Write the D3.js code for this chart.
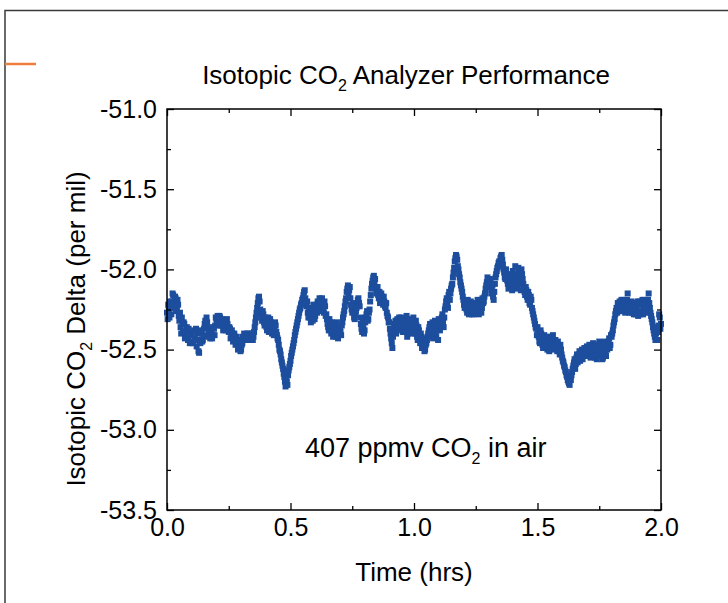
<!DOCTYPE html>
<html>
<head>
<meta charset="utf-8">
<script src="https://cdn.jsdelivr.net/npm/d3@7"></script>
<style>
  html, body { margin: 0; padding: 0; background: #fff; }
  svg { display: block; font-family: "Liberation Sans", Arial, sans-serif; }
</style>
</head>
<body>
<svg id="chart" width="728" height="603"></svg>
<script>
/*------------------- data --------------------*/
// time axis (hrs), one reading every 0.005 hr, second set offset by half a step
const t_start = 0;
const t_step = 0.005;

// isotopic CO2 delta (per mil), 20 values per 0.1 hr
const delta = [
  -52.27, -52.22, -52.30, -52.24, -52.20, -52.16, -52.24, -52.18, -52.25, -52.22, -52.32, -52.36, -52.30, -52.39, -52.34, -52.42, -52.36, -52.44, -52.39, -52.45,
  -52.40, -52.46, -52.38, -52.44, -52.48, -52.40, -52.52, -52.46, -52.40, -52.44, -52.37, -52.32, -52.30, -52.36, -52.40, -52.43, -52.38, -52.41, -52.37, -52.35,
  -52.31, -52.29, -52.33, -52.30, -52.35, -52.32, -52.37, -52.33, -52.36, -52.34, -52.39, -52.37, -52.42, -52.40, -52.44, -52.42, -52.46, -52.44, -52.49, -52.47,
  -52.50, -52.46, -52.44, -52.41, -52.44, -52.40, -52.43, -52.41, -52.44, -52.40, -52.42, -52.36, -52.30, -52.24, -52.18, -52.20, -52.27, -52.32, -52.28, -52.35,
  -52.33, -52.38, -52.30, -52.36, -52.33, -52.40, -52.34, -52.38, -52.35, -52.41, -52.44, -52.50, -52.53, -52.58, -52.62, -52.67, -52.73, -52.70, -52.66, -52.61,
  -52.57, -52.52, -52.48, -52.44, -52.39, -52.35, -52.31, -52.27, -52.24, -52.21, -52.18, -52.14, -52.18, -52.23, -52.27, -52.24, -52.30, -52.26, -52.32, -52.25,
  -52.29, -52.22, -52.20, -52.26, -52.19, -52.24, -52.21, -52.27, -52.23, -52.28, -52.34, -52.38, -52.33, -52.40, -52.35, -52.39, -52.34, -52.42, -52.37, -52.40,
  -52.36, -52.41, -52.33, -52.28, -52.23, -52.18, -52.12, -52.15, -52.11, -52.22, -52.27, -52.24, -52.31, -52.26, -52.21, -52.18, -52.23, -52.34, -52.39, -52.36,
  -52.38, -52.30, -52.26, -52.31, -52.25, -52.16, -52.09, -52.05, -52.08, -52.11, -52.13, -52.16, -52.14, -52.19, -52.17, -52.22, -52.20, -52.24, -52.27, -52.30,
  -52.33, -52.40, -52.46, -52.42, -52.36, -52.32, -52.38, -52.34, -52.30, -52.37, -52.33, -52.39, -52.31, -52.36, -52.29, -52.40, -52.34, -52.38, -52.32, -52.37,
  -52.33, -52.40, -52.35, -52.44, -52.38, -52.46, -52.42, -52.47, -52.44, -52.50, -52.46, -52.42, -52.38, -52.34, -52.40, -52.33, -52.38, -52.32, -52.42, -52.35,
  -52.31, -52.38, -52.33, -52.28, -52.36, -52.25, -52.20, -52.22, -52.16, -52.19, -52.12, -52.09, -52.02, -51.95, -51.91, -51.94, -52.00, -52.05, -52.10, -52.14,
  -52.19, -52.24, -52.21, -52.27, -52.22, -52.25, -52.20, -52.28, -52.23, -52.26, -52.21, -52.27, -52.22, -52.25, -52.19, -52.24, -52.21, -52.17, -52.12, -52.08,
  -52.06, -52.11, -52.08, -52.13, -52.17, -52.14, -52.05, -52.01, -51.98, -51.95, -51.93, -51.91, -51.97, -52.02, -52.06, -52.03, -52.09, -52.05, -52.11, -52.07,
  -52.01, -52.08, -51.98, -52.05, -52.12, -52.02, -52.09, -52.00, -52.06, -52.12, -52.16, -52.13, -52.19, -52.16, -52.22, -52.19, -52.26, -52.30, -52.34, -52.37,
  -52.36, -52.42, -52.46, -52.40, -52.47, -52.43, -52.49, -52.44, -52.50, -52.45, -52.48, -52.42, -52.47, -52.44, -52.50, -52.46, -52.51, -52.48, -52.53, -52.50,
  -52.55, -52.58, -52.61, -52.64, -52.67, -52.70, -52.72, -52.69, -52.64, -52.60, -52.56, -52.59, -52.53, -52.56, -52.51, -52.55, -52.50, -52.54, -52.49, -52.52,
  -52.48, -52.53, -52.47, -52.55, -52.50, -52.46, -52.52, -52.48, -52.56, -52.50, -52.45, -52.53, -52.49, -52.55, -52.47, -52.51, -52.46, -52.49, -52.43, -52.47,
  -52.42, -52.38, -52.33, -52.28, -52.24, -52.21, -52.26, -52.22, -52.19, -52.25, -52.21, -52.27, -52.23, -52.15, -52.22, -52.26, -52.20, -52.24, -52.28, -52.21,
  -52.25, -52.20, -52.27, -52.22, -52.26, -52.19, -52.24, -52.21, -52.27, -52.22, -52.15, -52.24, -52.29, -52.33, -52.38, -52.42, -52.40, -52.44, -52.35, -52.30,
  -52.34
];

// readings in between (t = 0.0025 + i * 0.005)
const delta_mid = [
  -52.31, -52.25, -52.20, -52.28, -52.15, -52.22, -52.17, -52.26, -52.19, -52.29, -52.27, -52.40, -52.34, -52.33, -52.43, -52.38, -52.41, -52.37, -52.46, -52.41,
  -52.45, -52.39, -52.43, -52.37, -52.44, -52.51, -52.45, -52.38, -52.45, -52.41, -52.34, -52.35, -52.33, -52.42, -52.37, -52.39, -52.43, -52.36, -52.41, -52.30,
  -52.34, -52.32, -52.29, -52.35, -52.31, -52.38, -52.33, -52.38, -52.31, -52.37, -52.36, -52.43, -52.38, -52.45, -52.40, -52.47, -52.42, -52.50, -52.45, -52.51,
  -52.47, -52.42, -52.40, -52.44, -52.42, -52.44, -52.40, -52.43, -52.41, -52.44, -52.39, -52.33, -52.27, -52.21, -52.17, -52.25, -52.30, -52.26, -52.33, -52.30,
  -52.36, -52.32, -52.39, -52.31, -52.38, -52.36, -52.41, -52.33, -52.39, -52.43, -52.47, -52.51, -52.56, -52.60, -52.65, -52.70, -52.68, -52.72, -52.63, -52.59,
  -52.54, -52.50, -52.46, -52.41, -52.37, -52.33, -52.29, -52.25, -52.22, -52.19, -52.16, -52.13, -52.21, -52.20, -52.30, -52.27, -52.33, -52.29, -52.22, -52.31,
  -52.25, -52.27, -52.23, -52.18, -52.22, -52.18, -52.25, -52.20, -52.29, -52.31, -52.36, -52.31, -52.38, -52.33, -52.42, -52.37, -52.40, -52.33, -52.43, -52.35,
  -52.39, -52.35, -52.30, -52.26, -52.20, -52.14, -52.10, -52.13, -52.18, -52.25, -52.21, -52.30, -52.28, -52.24, -52.19, -52.21, -52.30, -52.37, -52.33, -52.40,
  -52.33, -52.28, -52.32, -52.27, -52.20, -52.12, -52.07, -52.04, -52.06, -52.15, -52.11, -52.18, -52.21, -52.15, -52.20, -52.17, -52.23, -52.21, -52.29, -52.33,
  -52.37, -52.43, -52.49, -52.39, -52.34, -52.40, -52.31, -52.36, -52.33, -52.30, -52.38, -52.34, -52.39, -52.32, -52.42, -52.37, -52.31, -52.35, -52.40, -52.30,
  -52.37, -52.32, -52.42, -52.36, -52.43, -52.40, -52.49, -52.43, -52.51, -52.47, -52.44, -52.40, -52.36, -52.42, -52.37, -52.43, -52.35, -52.40, -52.38, -52.44,
  -52.35, -52.35, -52.30, -52.33, -52.30, -52.23, -52.18, -52.24, -52.14, -52.15, -52.10, -52.05, -51.99, -51.93, -51.92, -51.98, -52.03, -52.08, -52.12, -52.17,
  -52.22, -52.20, -52.25, -52.19, -52.28, -52.22, -52.25, -52.21, -52.28, -52.23, -52.25, -52.19, -52.28, -52.22, -52.27, -52.18, -52.20, -52.15, -52.10, -52.05,
  -52.09, -52.06, -52.15, -52.10, -52.19, -52.09, -52.03, -51.99, -51.96, -51.98, -51.92, -51.94, -52.00, -52.05, -52.00, -52.07, -52.12, -52.03, -52.09, -52.13,
  -52.04, -52.11, -52.03, -52.09, -51.99, -52.06, -52.13, -52.03, -52.09, -52.14, -52.11, -52.17, -52.14, -52.21, -52.17, -52.24, -52.28, -52.32, -52.36, -52.41,
  -52.39, -52.45, -52.38, -52.44, -52.49, -52.41, -52.47, -52.42, -52.48, -52.51, -52.45, -52.49, -52.41, -52.47, -52.44, -52.49, -52.45, -52.51, -52.47, -52.53,
  -52.57, -52.60, -52.63, -52.66, -52.69, -52.71, -52.67, -52.66, -52.62, -52.58, -52.62, -52.55, -52.58, -52.53, -52.57, -52.52, -52.56, -52.51, -52.54, -52.49,
  -52.51, -52.49, -52.53, -52.48, -52.54, -52.49, -52.55, -52.51, -52.47, -52.54, -52.50, -52.47, -52.56, -52.50, -52.45, -52.54, -52.50, -52.45, -52.49, -52.41,
  -52.40, -52.35, -52.31, -52.26, -52.27, -52.24, -52.20, -52.26, -52.22, -52.19, -52.25, -52.20, -52.19, -52.24, -52.27, -52.22, -52.27, -52.21, -52.24, -52.28,
  -52.22, -52.29, -52.20, -52.28, -52.22, -52.28, -52.19, -52.25, -52.20, -52.19, -52.21, -52.27, -52.31, -52.36, -52.40, -52.44, -52.38, -52.39, -52.28, -52.37
];

// axis ticks
const x_ticks = [0, 0.5, 1.0, 1.5, 2.0];
const x_minor = [0.25, 0.75, 1.25, 1.75];
const y_ticks = [-51.0, -51.5, -52.0, -52.5, -53.0, -53.5];
const y_minor = [-51.25, -51.75, -52.25, -52.75, -53.25];

/*------------------- layout --------------------*/
const plot = { left: 167, right: 661, top: 109, bottom: 510 };
const blue = "#1d4e9e";
const fontFamily = "'Liberation Sans', Arial, sans-serif";

const svg = d3.select("#chart");

const xScale = d3.scaleLinear().domain([0, 2]).range([plot.left, plot.right]);
const yScale = d3.scaleLinear().domain([-53.5, -51.0]).range([plot.bottom, plot.top]);

// slide frame + orange accent
svg.append("path")
    .attr("d", "M5,603 V10.5 H728")
    .attr("fill", "none")
    .attr("stroke", "#3a3a3a")
    .attr("stroke-width", 1.5);
svg.append("line")
    .attr("x1", 5).attr("x2", 36)
    .attr("y1", 64).attr("y2", 64)
    .attr("stroke", "#f07c3c")
    .attr("stroke-width", 2.5);

/*------------------- marks --------------------*/
const points = delta.map((v, i) => ({ t: t_start + i * t_step, v: v }))
    .concat(delta_mid.map((v, i) => ({ t: t_start + (i + 0.5) * t_step, v: v })));

svg.append("g")
    .selectAll("rect")
    .data(points)
    .enter()
    .append("rect")
    .attr("x", d => xScale(d.t) - 3)
    .attr("y", d => yScale(d.v) - 3)
    .attr("width", 6)
    .attr("height", 6)
    .attr("fill", blue);

/*------------------- axes --------------------*/
function styleAxis(g) {
    g.select(".domain").remove();
    g.attr("font-size", null).attr("font-family", null);
    g.selectAll(".tick line").attr("stroke", "#000").attr("stroke-width", 1.3);
    g.selectAll(".tick text")
        .attr("fill", "#000")
        .style("font-size", "25px")
        .style("font-family", fontFamily);
}

// plain hyphen for the minus sign, like the original
const fmt = d => d.toFixed(1);

// bottom
svg.append("g")
    .attr("transform", `translate(0,${plot.bottom})`)
    .call(d3.axisBottom(xScale).tickValues(x_ticks).tickFormat(fmt).tickSize(-7).tickPadding(8))
    .call(styleAxis);
svg.append("g")
    .attr("transform", `translate(0,${plot.bottom})`)
    .call(d3.axisBottom(xScale).tickValues(x_minor).tickFormat("").tickSize(-4))
    .call(styleAxis);
// top
svg.append("g")
    .attr("transform", `translate(0,${plot.top})`)
    .call(d3.axisTop(xScale).tickValues(x_ticks).tickFormat("").tickSize(-7))
    .call(styleAxis);
svg.append("g")
    .attr("transform", `translate(0,${plot.top})`)
    .call(d3.axisTop(xScale).tickValues(x_minor).tickFormat("").tickSize(-4))
    .call(styleAxis);
// left
svg.append("g")
    .attr("transform", `translate(${plot.left},0)`)
    .call(d3.axisLeft(yScale).tickValues(y_ticks).tickFormat(fmt).tickSize(-7).tickPadding(10))
    .call(styleAxis);
svg.append("g")
    .attr("transform", `translate(${plot.left},0)`)
    .call(d3.axisLeft(yScale).tickValues(y_minor).tickFormat("").tickSize(-4))
    .call(styleAxis);
// right
svg.append("g")
    .attr("transform", `translate(${plot.right},0)`)
    .call(d3.axisRight(yScale).tickValues(y_ticks).tickFormat("").tickSize(-7))
    .call(styleAxis);
svg.append("g")
    .attr("transform", `translate(${plot.right},0)`)
    .call(d3.axisRight(yScale).tickValues(y_minor).tickFormat("").tickSize(-4))
    .call(styleAxis);

// frame
svg.append("rect")
    .attr("x", plot.left).attr("y", plot.top)
    .attr("width", plot.right - plot.left)
    .attr("height", plot.bottom - plot.top)
    .attr("fill", "none")
    .attr("stroke", "#000")
    .attr("stroke-width", 1.5);

/*------------------- texts --------------------*/
// text with a CO2 subscript
function co2Text(sel, before, after, sub) {
    sel.append("tspan").text(before + "CO");
    sel.append("tspan").text("2").style("font-size", sub + "px").attr("dy", sub * 0.45);
    sel.append("tspan").text(after).attr("dy", -sub * 0.45);
}

const title = svg.append("text")
    .attr("x", 406).attr("y", 84)
    .attr("text-anchor", "middle")
    .style("font-size", "26px");
co2Text(title, "Isotopic ", " Analyzer Performance", 16);

svg.append("text")
    .attr("x", 414).attr("y", 581)
    .attr("text-anchor", "middle")
    .style("font-size", "26px")
    .text("Time (hrs)");

const ylab = svg.append("text")
    .attr("transform", "translate(85,329) rotate(-90)")
    .attr("text-anchor", "middle")
    .style("font-size", "26px");
co2Text(ylab, "Isotopic ", " Delta (per mil)", 16);

const note = svg.append("text")
    .attr("x", 305).attr("y", 457)
    .style("font-size", "27px");
co2Text(note, "407 ppmv ", " in air", 16);
</script>
</body>
</html>
